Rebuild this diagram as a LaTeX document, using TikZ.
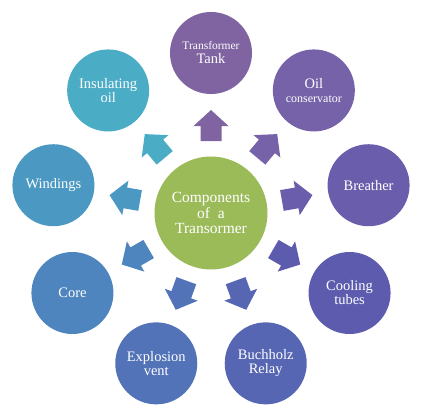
\documentclass[tikz,border=0pt]{standalone}
\usepackage{fontspec}
\setmainfont{Liberation Serif}
\definecolor{cgreen}{HTML}{9BBB59}
\definecolor{cA}{HTML}{8064A2}
\definecolor{cB}{HTML}{7662A8}
\definecolor{cC}{HTML}{6A5DAC}
\definecolor{cD}{HTML}{5C5BAE}
\definecolor{cE}{HTML}{5666B3}
\definecolor{cF}{HTML}{5273B8}
\definecolor{cG}{HTML}{4F85BE}
\definecolor{cH}{HTML}{4B99C3}
\definecolor{cI}{HTML}{4BACC6}
\begin{document}
\begin{tikzpicture}[x=1pt,y=1pt,
  hub/.style={circle, fill=cgreen, minimum size=113pt, inner sep=0pt, text=white, align=center, font=\fontsize{15.5}{15.5}\selectfont},
  leaf/.style={circle, minimum size=82pt, inner sep=0pt, text=white, align=center, font=\fontsize{14.5}{14}\selectfont}]
\useasboundingbox (0,0) rectangle (422,416);
\node[hub] (c) at (211,203) {Components\\of~~a\\Transormer};
\node[leaf, fill=cA] (o1) at ([shift={(90:160)}]c) {{\fontsize{11.5}{12}\selectfont Transformer}\\Tank};
\node[leaf, fill=cB] (o2) at ([shift={(50:160)}]c) {Oil\\{\fontsize{12}{12}\selectfont conservator}};
\node[leaf, fill=cC] (o3) at ([shift={(10:160)}]c) {Breather};
\node[leaf, fill=cD] (o4) at ([shift={(-30:160)}]c) {Cooling\\tubes};
\node[leaf, fill=cE] (o5) at ([shift={(-70:160)}]c) {Buchholz\\Relay};
\node[leaf, fill=cF] (o6) at ([shift={(-110:160)}]c) {Explosion\\vent};
\node[leaf, fill=cG] (o7) at ([shift={(-150:160)}]c) {Core};
\node[leaf, fill=cH] (o8) at ([shift={(170:160)}]c) {Windings};
\node[leaf, fill=cI] (o9) at ([shift={(130:160)}]c) {Insulating\\oil};
\foreach \a/\col in {90/cA, 50/cB, 10/cC, -30/cD, -70/cE, -110/cF, -150/cG, 170/cH, 130/cI}{
  \begin{scope}[shift={(c)}, rotate=\a]
    \fill[\col] (72,-10.5) -- (87,-10.5) -- (87,-17.5) -- (103,0) -- (87,17.5) -- (87,10.5) -- (72,10.5) -- cycle;
  \end{scope}
}
\end{tikzpicture}
\end{document}
